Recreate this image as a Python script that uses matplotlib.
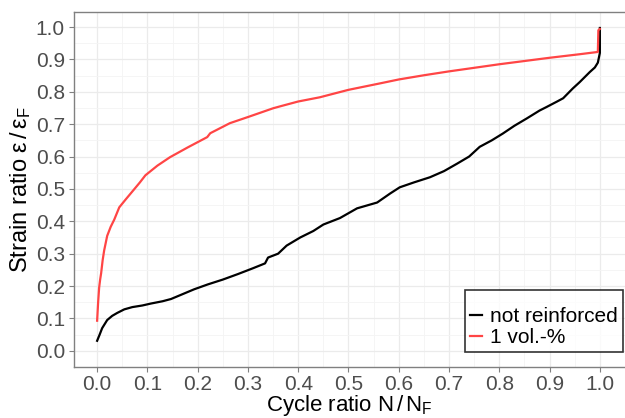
import matplotlib
matplotlib.use("Agg")
import matplotlib.pyplot as plt
from matplotlib.ticker import MultipleLocator

plt.rcParams['font.family'] = ['Liberation Sans', 'DejaVu Sans']
plt.rcParams['mathtext.fontset'] = 'custom'
plt.rcParams['mathtext.rm'] = 'Liberation Sans'
plt.rcParams['mathtext.it'] = 'Liberation Sans'

# not reinforced
x_plain = [0, 0.005, 0.01, 0.02, 0.03, 0.04, 0.054, 0.07, 0.09, 0.107, 0.13, 0.147,
           0.17, 0.193, 0.22, 0.25, 0.28, 0.31, 0.334, 0.34, 0.36, 0.377, 0.404, 0.43,
           0.45, 0.483, 0.517, 0.557, 0.583, 0.602, 0.63, 0.662, 0.69, 0.716, 0.74,
           0.761, 0.785, 0.807, 0.83, 0.855, 0.88, 0.894, 0.915, 0.927, 0.946, 0.96,
           0.98, 0.99, 0.996, 1.0, 1.0]
y_plain = [0.031, 0.05, 0.07, 0.095, 0.108, 0.117, 0.128, 0.135, 0.14, 0.146, 0.153,
           0.16, 0.175, 0.19, 0.205, 0.22, 0.237, 0.255, 0.27, 0.288, 0.30, 0.325, 0.35,
           0.37, 0.39, 0.41, 0.44, 0.458, 0.486, 0.505, 0.52, 0.536, 0.555, 0.578, 0.60,
           0.63, 0.65, 0.671, 0.695, 0.718, 0.742, 0.753, 0.77, 0.78, 0.81, 0.83, 0.861,
           0.875, 0.89, 0.92, 0.997]

# 1 vol.-%
x_fib = [0, 0.002, 0.004, 0.006, 0.008, 0.011, 0.014, 0.02, 0.027, 0.034, 0.044,
         0.056, 0.07, 0.085, 0.096, 0.12, 0.145, 0.18, 0.219, 0.225, 0.264, 0.3, 0.35,
         0.364, 0.4, 0.443, 0.5, 0.563, 0.6, 0.65, 0.7, 0.75, 0.8, 0.85, 0.9, 0.96,
         0.996, 0.997, 1.0]
y_fib = [0.093, 0.15, 0.195, 0.22, 0.24, 0.28, 0.31, 0.355, 0.383, 0.405, 0.443, 0.466,
         0.492, 0.52, 0.542, 0.572, 0.598, 0.628, 0.66, 0.672, 0.703, 0.722, 0.749,
         0.755, 0.77, 0.783, 0.806, 0.826, 0.838, 0.851, 0.863, 0.874, 0.885, 0.895,
         0.905, 0.916, 0.923, 0.99, 0.994]

labels = ["not reinforced", "1 vol.-%"]
colors = ["black", "#ff4545"]

fig = plt.figure(figsize=(6.25, 4.18), dpi=100)
ax = fig.add_axes([0.1184, 0.122, 0.8816, 0.849])

ax.plot(x_plain, y_plain, color=colors[0], lw=1.6, label=labels[0])
ax.plot(x_fib, y_fib, color=colors[1], lw=1.6, label=labels[1])

ax.set_xlim(-0.046, 1.05)
ax.set_ylim(-0.05, 1.046)
ax.xaxis.set_minor_locator(MultipleLocator(0.05))
ax.yaxis.set_minor_locator(MultipleLocator(0.05))
ax.set_xticks([i / 10 for i in range(11)])
ax.set_xticklabels([f"{i / 10:.1f}" for i in range(11)])
ax.set_yticks([i / 10 for i in range(11)])
ax.set_yticklabels([f"{i / 10:.1f}" for i in range(11)])

ax.grid(which='major', color='#ebebeb', lw=0.9)
ax.grid(which='minor', color='#f4f4f4', lw=0.6)
ax.set_axisbelow(True)

for side in ['left', 'top', 'bottom']:
    ax.spines[side].set_color('#808080')
    ax.spines[side].set_linewidth(1.0)
ax.spines['right'].set_visible(False)

ax.tick_params(which='major', length=3.5, color='#808080', labelsize=15,
               labelcolor='#4d4d4d', pad=3)
ax.tick_params(axis='x', which='major', pad=2)
ax.tick_params(which='minor', length=0)

ax.set_xlabel(r"Cycle ratio N$\,/\,$N$_\mathrm{F}$", fontsize=16, labelpad=-0.5)
ax.set_ylabel(r"Strain ratio ε$\,/\,$ε$_\mathrm{F}$", fontsize=17, labelpad=2)

leg = ax.legend(title=" ", loc='lower right', bbox_to_anchor=(0.9964, 0.042),
                borderaxespad=0, fontsize=15, title_fontsize=7, frameon=True,
                fancybox=False, edgecolor='black', handlelength=0.55,
                handletextpad=0.4, borderpad=0.25, labelspacing=0.1)
leg.get_frame().set_linewidth(1.2)

fig.savefig("out.png", dpi=100)
